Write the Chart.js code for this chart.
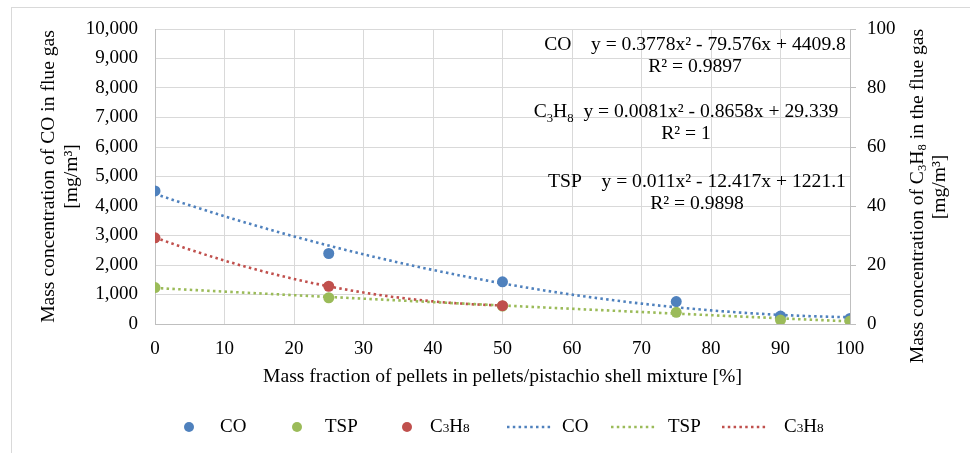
<!DOCTYPE html>
<html><head><meta charset="utf-8">
<script src="https://cdn.jsdelivr.net/npm/chart.js@4.4.1/dist/chart.umd.min.js"></script>
<style>
html,body{margin:0;padding:0;background:#fff;}
#wrap{position:relative;width:970px;height:453px;overflow:hidden;background:#fff;}
#frame{position:absolute;left:11px;top:7px;width:1200px;height:1200px;border:1px solid #d9d9d9;box-sizing:border-box;}
canvas{position:absolute;left:0;top:0;}
</style></head><body>
<div id="wrap"><div id="frame"></div><canvas id="c" width="970" height="453"></canvas></div>
<script>
// ---- data ----
const massFraction = [0, 25, 50, 75, 90, 100];
const coValues = [4510, 2390, 1430, 760, 270, 190];
const tspValues = [1235, 890, 610, 395, 135, 100];
const c3h8Fraction = [0, 25, 50];
const c3h8Values = [29.2, 12.8, 6.2];
// polynomial trendline coefficients printed on the chart [a, b, c] : y = a x^2 + b x + c
const coTrendCoef = [0.3778, -79.576, 4409.8];
const tspTrendCoef = [0.011, -12.417, 1221.1];
const c3h8TrendCoef = [0.0081, -0.8658, 29.339];
const coR2 = '0.9897';
const tspR2 = '0.9898';
const c3h8R2 = '1';
const trendXs = [0,2,4,6,8,10,12,14,16,18,20,22,24,26,28,30,32,34,36,38,40,42,44,46,48,50,52,54,56,58,60,62,64,66,68,70,72,74,76,78,80,82,84,86,88,90,92,94,96,98,100];
const c3h8TrendXs = [0,2,4,6,8,10,12,14,16,18,20,22,24,26,28,30,32,34,36,38,40,42,44,46,48,50];

const BLUE = '#4F81BD', GREEN = '#9BBB59', RED = '#C0504D';
const FF = '"Liberation Serif","Times New Roman",serif';
const FS = 19;     // tick & legend size
const FT = 19.6;   // titles & equations

function pts(xs, ys){ return xs.map((x,i)=>({x:x, y:ys[i]})); }
function trend(xs, k){ return xs.map(x=>({x:x, y:k[0]*x*x + k[1]*x + k[2]})); }
function eqText(k){
  const s = (v)=> (v<0?' - ':' + ') + Math.abs(v);
  return 'y = ' + k[0] + 'x\u00B2' + s(k[1]) + 'x' + s(k[2]);
}

// rich text: array of [text, isSub]
function richWidth(ctx, segs, size, subScale){
  let w = 0;
  for (const [t, sub] of segs){
    ctx.font = (sub ? size*subScale : size) + 'px ' + FF;
    w += ctx.measureText(t).width;
  }
  return w;
}
function drawRich(ctx, segs, x, y, size, opts){
  const subScale = opts.subScale || 0.65, shift = opts.shift || 4;
  const w = richWidth(ctx, segs, size, subScale);
  let cx = opts.align === 'center' ? x - w/2 : x;
  ctx.textAlign = 'left';
  ctx.textBaseline = opts.baseline || 'alphabetic';
  for (const [t, sub] of segs){
    ctx.font = (sub ? size*subScale : size) + 'px ' + FF;
    ctx.fillText(t, cx, sub ? y + shift : y);
    cx += ctx.measureText(t).width;
  }
}

const C3H8 = [['C',0],['3',1],['H',0],['8',1]];

const annotationPlugin = {
  id: 'annot',
  afterDatasetsDraw(chart){
    const ctx = chart.ctx;
    ctx.save();
    ctx.fillStyle = '#000';
    const labels = [
      {l1: [['CO    ' + eqText(coTrendCoef),0]], r2: coR2, cx: 695, y: 50},
      {l1: C3H8.concat([['  ' + eqText(c3h8TrendCoef),0]]), r2: c3h8R2, cx: 686, y: 117},
      {l1: [['TSP    ' + eqText(tspTrendCoef),0]], r2: tspR2, cx: 697, y: 187}
    ];
    for (const L of labels){
      drawRich(ctx, L.l1, L.cx, L.y, FT, {align:'center', shift:5, subScale:0.65});
      drawRich(ctx, [['R\u00B2 = ' + L.r2,0]], L.cx, L.y + 22, FT, {align:'center'});
    }
    ctx.restore();
  },
  afterDraw(chart){
    const ctx = chart.ctx;
    ctx.save();
    ctx.fillStyle = '#000';
    // right axis title (reads bottom to top)
    const line1 = [['Mass concentration of ',0]].concat(C3H8).concat([[' in the flue gas',0]]);
    ctx.translate(918, 196);
    ctx.rotate(-Math.PI/2);
    drawRich(ctx, line1, 0, 0, FT, {align:'center', baseline:'middle', shift:5});
    drawRich(ctx, [['[mg/m\u00B3]',0]], 9, 22, FT, {align:'center', baseline:'middle'});
    ctx.restore();

    // legend
    ctx.save();
    const ly = 427;
    const ds = chart.data.datasets;
    const items = [
      {d:0, kind:'dot', mx:189, tx:220},
      {d:1, kind:'dot', mx:297, tx:325},
      {d:2, kind:'dot', mx:407, tx:430},
      {d:3, kind:'line', m0:507, m1:552, tx:562},
      {d:4, kind:'line', m0:611, m1:657, tx:668},
      {d:5, kind:'line', m0:722, m1:768, tx:784}
    ];
    for (const it of items){
      const d = ds[it.d];
      if (it.kind === 'dot'){
        ctx.fillStyle = d.backgroundColor;
        ctx.beginPath(); ctx.arc(it.mx, ly, 5, 0, Math.PI*2); ctx.fill();
      } else {
        ctx.strokeStyle = d.borderColor;
        ctx.lineWidth = 2.5;
        ctx.setLineDash([2.5, 3.3]);
        ctx.beginPath(); ctx.moveTo(it.m0, ly); ctx.lineTo(it.m1, ly); ctx.stroke();
        ctx.setLineDash([]);
      }
      ctx.fillStyle = '#000';
      const segs = d.richLabel || [[d.label,0]];
      drawRich(ctx, segs, it.tx, ly, FS, {align:'left', baseline:'middle', shift:2, subScale:0.7});
    }
    ctx.restore();
  }
};

const font = {family: FF, size: FS};
const tfont = {family: FF, size: FT};
const dash = [2.5, 3.3];

new Chart(document.getElementById('c'), {
  type: 'scatter',
  data: {
    datasets: [
      {label:'CO', data: pts(massFraction, coValues), yAxisID:'y', backgroundColor:BLUE, borderColor:BLUE, pointRadius:5.5, pointBorderWidth:0, order:2},
      {label:'TSP', data: pts(massFraction, tspValues), yAxisID:'y', backgroundColor:GREEN, borderColor:GREEN, pointRadius:5.5, pointBorderWidth:0, order:1},
      {label:'C3H8', richLabel: C3H8, data: pts(c3h8Fraction, c3h8Values), yAxisID:'y1', backgroundColor:RED, borderColor:RED, pointRadius:5.5, pointBorderWidth:0, order:0},
      {label:'CO', data: trend(trendXs, coTrendCoef), yAxisID:'y', showLine:true, pointRadius:0, borderColor:BLUE, backgroundColor:BLUE, borderWidth:2.6, borderDash:dash, fill:false, order:3},
      {label:'TSP', data: trend(trendXs, tspTrendCoef), yAxisID:'y', showLine:true, pointRadius:0, borderColor:GREEN, backgroundColor:GREEN, borderWidth:2.6, borderDash:dash, fill:false, order:4},
      {label:'C3H8', richLabel: C3H8, data: trend(c3h8TrendXs, c3h8TrendCoef), yAxisID:'y1', showLine:true, pointRadius:0, borderColor:RED, backgroundColor:RED, borderWidth:2.6, borderDash:dash, fill:false, order:5}
    ]
  },
  options: {
    responsive: false,
    animation: false,
    events: [],
    layout: {padding: {left: 37, right: 0, top: 29, bottom: 64}},
    plugins: {legend: {display: false}, tooltip: {enabled: false}},
    scales: {
      x: {
        type: 'linear', min: 0, max: 100,
        ticks: {stepSize: 10, padding: 14, color: '#000', font: font, maxRotation: 0},
        grid: {color: '#d9d9d9', drawTicks: false},
        border: {color: '#bfbfbf'},
        title: {display: true, text: 'Mass fraction of pellets in pellets/pistachio shell mixture [%]', color: '#000', font: tfont, padding: 0},
        afterFit: s => { s.height = 65; }
      },
      y: {
        position: 'left', min: 0, max: 10000,
        ticks: {stepSize: 1000, padding: 17, color: '#000', font: font, callback: v => v.toLocaleString('en-US')},
        grid: {color: '#d9d9d9', drawTicks: false},
        border: {color: '#bfbfbf'},
        title: {display: true, text: ['Mass concentration of CO in flue gas', '[mg/m\u00B3]'], color: '#000', font: tfont, padding: 0},
        afterFit: s => { s.width = 118; }
      },
      y1: {
        position: 'right', min: 0, max: 100,
        ticks: {stepSize: 20, padding: 11, color: '#000', font: font},
        grid: {drawOnChartArea: false, color: '#bfbfbf', tickLength: 6},
        border: {color: '#bfbfbf'},
        afterFit: s => { s.width = 120; }
      }
    }
  },
  plugins: [annotationPlugin]
});
</script>
</body></html>
